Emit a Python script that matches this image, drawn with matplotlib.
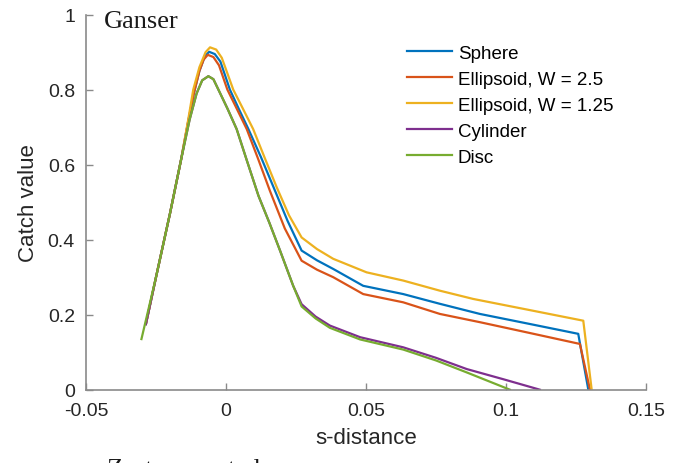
import matplotlib
matplotlib.use("Agg")
import matplotlib.pyplot as plt

# ---------------- data ----------------
sphere_x = [-0.0286, -0.025, -0.020, -0.016, -0.0135, -0.0115, -0.0095, -0.0075, -0.006, -0.004, -0.002,
            0.0014, 0.0045, 0.008, 0.0125, 0.0167, 0.022, 0.027, 0.0325, 0.0383, 0.049, 0.0633, 0.0764,
            0.0907, 0.108, 0.1258, 0.1294]
sphere_y = [0.175, 0.30, 0.47, 0.615, 0.715, 0.79, 0.85, 0.89, 0.901, 0.895, 0.875,
            0.80, 0.75, 0.695, 0.62, 0.545, 0.45, 0.371, 0.345, 0.322, 0.277, 0.255, 0.229,
            0.202, 0.176, 0.149, 0.0]

ell25_x = [-0.0286, -0.025, -0.020, -0.016, -0.0135, -0.0115, -0.0095, -0.008, -0.0065, -0.0045, -0.0025,
           0.0005, 0.0038, 0.0074, 0.0115, 0.0157, 0.021, 0.027, 0.0325, 0.0383, 0.049, 0.0633, 0.0764,
           0.0907, 0.108, 0.1264, 0.1300]
ell25_y = [0.175, 0.30, 0.47, 0.615, 0.715, 0.79, 0.85, 0.88, 0.893, 0.887, 0.865,
           0.80, 0.75, 0.695, 0.615, 0.53, 0.43, 0.344, 0.32, 0.30, 0.255, 0.233, 0.202,
           0.180, 0.152, 0.122, 0.0]

ell125_x = [-0.0285, -0.025, -0.020, -0.016, -0.0135, -0.0117, -0.0095, -0.0073, -0.0057, -0.0035, -0.0015,
            0.0026, 0.006, 0.0097, 0.014, 0.0181, 0.0225, 0.027, 0.0325, 0.0383, 0.0502, 0.0633, 0.0764,
            0.0883, 0.108, 0.1276, 0.1306]
ell125_y = [0.18, 0.30, 0.47, 0.615, 0.72, 0.80, 0.86, 0.90, 0.913, 0.907, 0.885,
            0.80, 0.75, 0.695, 0.615, 0.54, 0.465, 0.406, 0.375, 0.349, 0.313, 0.291, 0.264,
            0.242, 0.213, 0.184, 0.0]

cyl_x = [-0.0286, -0.025, -0.020, -0.016, -0.013, -0.0105, -0.0085, -0.0063, -0.0045, -0.0027,
         0.0005, 0.0038, 0.0075, 0.0116, 0.0155, 0.0193, 0.024, 0.027, 0.032, 0.0371, 0.0479,
         0.0633, 0.075, 0.086, 0.099, 0.1121]
cyl_y = [0.175, 0.30, 0.47, 0.615, 0.72, 0.79, 0.825, 0.836, 0.828, 0.80,
         0.75, 0.695, 0.61, 0.517, 0.445, 0.371, 0.277, 0.228, 0.195, 0.171, 0.140,
         0.113, 0.085, 0.055, 0.028, 0.0]

disc_x = [-0.0302, -0.025, -0.020, -0.016, -0.013, -0.0105, -0.0085, -0.0063, -0.0045, -0.0027,
          0.0005, 0.0038, 0.0075, 0.0116, 0.0155, 0.0193, 0.024, 0.027, 0.032, 0.0371, 0.0479,
          0.0633, 0.075, 0.086, 0.1014]
disc_y = [0.135, 0.30, 0.47, 0.615, 0.72, 0.79, 0.825, 0.836, 0.828, 0.80,
          0.75, 0.695, 0.61, 0.517, 0.445, 0.371, 0.277, 0.222, 0.19, 0.165, 0.134,
          0.107, 0.078, 0.046, 0.0]

series_labels = ["Sphere", "Ellipsoid, W = 2.5", "Ellipsoid, W = 1.25", "Cylinder", "Disc"]
series_colors = ["#0072BD", "#D95319", "#EDB120", "#7E2F8E", "#77AC30"]

x_ticks = [-0.05, 0, 0.05, 0.1, 0.15]
x_ticklabels = ["-0.05", "0", "0.05", "0.1", "0.15"]
y_ticks = [0, 0.2, 0.4, 0.6, 0.8, 1]
y_ticklabels = ["0", "0.2", "0.4", "0.6", "0.8", "1"]

# ---------------- plot ----------------
plt.rcParams['font.family'] = ['Liberation Sans', 'DejaVu Sans']
W, H = 684, 464
fig = plt.figure(figsize=(W / 100, H / 100), dpi=100)
ax = fig.add_axes([86 / W, 1 - 390.7 / H, (646 - 86) / W, (390.7 - 15.7) / H])

xs = [sphere_x, ell25_x, ell125_x, cyl_x, disc_x]
ys = [sphere_y, ell25_y, ell125_y, cyl_y, disc_y]
for x, y, lab, c in zip(xs, ys, series_labels, series_colors):
    ax.plot(x, y, color=c, lw=1.6, label=lab, solid_joinstyle='round')

ax.set_xlim(-0.05, 0.15)
ax.set_ylim(0, 1)
ax.set_xticks(x_ticks)
ax.set_xticklabels(x_ticklabels)
ax.set_yticks(y_ticks)
ax.set_yticklabels(y_ticklabels)

axis_col = "#8a8a8a"
for s in ['top', 'right']:
    ax.spines[s].set_visible(False)
for s in ['left', 'bottom']:
    ax.spines[s].set_color(axis_col)
    ax.spines[s].set_linewidth(1.2)
ax.tick_params(direction='in', length=5, width=1.0, color=axis_col,
               labelcolor="#262626", labelsize=14)
ax.tick_params(axis='y', pad=8)
ax.tick_params(axis='x', pad=8.5)

ax.set_xlabel("s-distance", fontsize=16, color="#262626", labelpad=6)
ax.set_ylabel("Catch value", fontsize=16, color="#262626", labelpad=6)

leg = ax.legend(loc='upper left', bbox_to_anchor=(0.56, 0.94), frameon=False,
                fontsize=13.5, handlelength=2.4, handletextpad=0.3, labelspacing=0.47,
                borderaxespad=0)

fig.text(104 / W, 1 - 28 / H, "Ganser", family='Liberation Serif', fontsize=19,
         color="#1a1a1a", va='baseline', ha='left')
fig.text(107 / W, 1 - 476 / H, "Zastawny et al.", family='Liberation Serif', fontsize=19,
         color="#1a1a1a", va='baseline', ha='left')

fig.savefig("out.png", dpi=100)
